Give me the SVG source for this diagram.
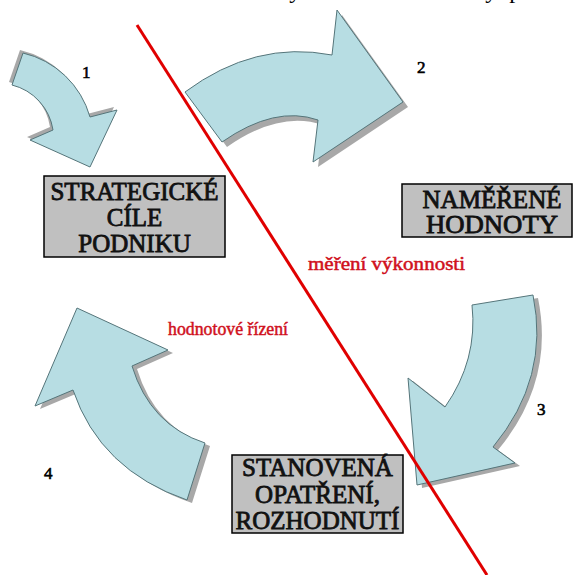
<svg xmlns="http://www.w3.org/2000/svg" width="573" height="575" viewBox="0 0 573 575">
<style>
.arrow{fill:#b7dde3;stroke:#55757a;stroke-width:1}
.shadow{fill:#a8a8a8}
.box{fill:#c0c0c0;stroke:#000;stroke-width:1.5}
.bt{font-size:25px;fill:#111;stroke:#111;stroke-width:0.8;text-anchor:middle}
.num{font-size:17px;fill:#000;stroke:#000;stroke-width:0.6}
.red{font-size:19px;fill:#d0101c;stroke:#d0101c;stroke-width:0.5}
</style>
<rect width="573" height="575" fill="#fff"/>
<g font-family="Liberation Serif, serif">
<text x="4" y="-2" font-size="24" word-spacing="6" fill="#000">Schéma 1: Proces měření výkonnosti a hodnoty podniku</text>

<g id="arrow1">
<path class="shadow" transform="translate(-3,-3)" d="M23,53 A91,91 0 0 1 90,117 L117,110 L90,167 L30,140 L53,130 A55,55 0 0 0 12,85 Z"/>
<path class="arrow" d="M23,53 A91,91 0 0 1 90,117 L117,110 L90,167 L30,140 L53,130 A55,55 0 0 0 12,85 Z"/>
<text class="num" x="82" y="78">1</text>
</g>

<g id="arrow2">
<path class="shadow" transform="translate(5,5)" d="M185,92 Q255,40 332,55 L337,10 L403,102 L313,162 L318,120 Q275,105 222,142 Z"/>
<path class="arrow" d="M185,92 Q255,40 332,55 L337,10 L403,102 L313,162 L318,120 Q275,105 222,142 Z"/>
<text class="num" x="417" y="73">2</text>
</g>

<g id="arrow3">
<path class="shadow" transform="translate(5,3)" d="M472,305 L533,295 Q550,378 493,447 L515,463 L417,485 L408,378 L445,407 Q478,360 472,305 Z"/>
<path class="arrow" d="M472,305 L533,295 Q550,378 493,447 L515,463 L417,485 L408,378 L445,407 Q478,360 472,305 Z"/>
<text class="num" x="537" y="415">3</text>
</g>

<g id="arrow4">
<path class="shadow" transform="translate(5,3)" d="M77,308 L168,350 L132,366 Q150,425 205,443 L187,500 Q100,470 73,390 L35,406 Z"/>
<path class="arrow" d="M77,308 L168,350 L132,366 Q150,425 205,443 L187,500 Q100,470 73,390 L35,406 Z"/>
<text class="num" x="44" y="479">4</text>
</g>

<g id="box1">
<rect class="box" x="44" y="176" width="181" height="81"/>
<text class="bt" x="134.5" y="200">STRATEGICKÉ</text>
<text class="bt" x="134.5" y="226">CÍLE</text>
<text class="bt" x="134.5" y="252">PODNIKU</text>
</g>

<g id="box2">
<rect class="box" x="402" y="184" width="170" height="53"/>
<text class="bt" x="492" y="208" font-size="20" textLength="139" lengthAdjust="spacingAndGlyphs">NAMĚŘENÉ</text>
<text class="bt" x="492" y="233" font-size="20" textLength="132" lengthAdjust="spacingAndGlyphs">HODNOTY</text>
</g>

<g id="box3">
<rect class="box" x="232" y="455" width="171" height="78"/>
<text class="bt" x="317.5" y="476">STANOVENÁ</text>
<text class="bt" x="317.5" y="503">OPATŘENÍ,</text>
<text class="bt" x="317.5" y="529">ROZHODNUTÍ</text>
</g>

<g id="connectors">
<line x1="137" y1="25" x2="487" y2="575" stroke="#e00000" stroke-width="3"/>
</g>

<g id="labels">
<text class="red" x="308" y="270" textLength="157" lengthAdjust="spacingAndGlyphs">měření výkonnosti</text>
<text class="red" x="168" y="335" textLength="120" lengthAdjust="spacingAndGlyphs">hodnotové řízení</text>
</g>
</g>
</svg>
